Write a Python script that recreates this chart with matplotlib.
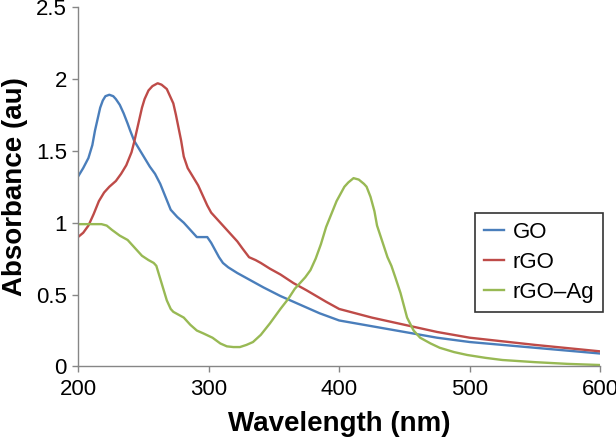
import matplotlib
matplotlib.use("Agg")
import matplotlib.pyplot as plt

plt.rcParams['font.family'] = ['Liberation Sans', 'DejaVu Sans']

go_x = [200, 204, 208, 211, 213, 215, 217, 219, 221, 224, 227, 229, 232, 235, 238, 240, 243, 247,
        251, 255, 259, 263, 267, 271, 276, 281, 286, 291, 295, 299, 302, 305, 308, 311, 315, 322,
        332, 342, 355, 370, 385, 400, 425, 450, 475, 500, 550, 600]
go_y = [1.32, 1.38, 1.45, 1.54, 1.64, 1.72, 1.80, 1.85, 1.88, 1.89, 1.88, 1.86, 1.82, 1.76, 1.69,
        1.64, 1.57, 1.51, 1.45, 1.39, 1.34, 1.27, 1.18, 1.09, 1.04, 1.00, 0.95, 0.90, 0.90, 0.90,
        0.86, 0.81, 0.76, 0.72, 0.69, 0.65, 0.60, 0.55, 0.49, 0.43, 0.37, 0.32, 0.28, 0.24, 0.20,
        0.17, 0.13, 0.09]

rgo_x = [200, 204, 208, 212, 216, 220, 224, 229, 233, 237, 241, 243, 245, 247, 249, 251, 254, 257,
         261, 264, 268, 271, 273, 275, 277, 279, 281, 284, 288, 292, 296, 299, 302, 306, 311, 316,
         322, 326, 331, 336, 340, 347, 355, 365, 375, 390, 400, 425, 450, 475, 500, 550, 600]
rgo_y = [0.90, 0.93, 0.98, 1.06, 1.15, 1.21, 1.25, 1.29, 1.34, 1.40, 1.49, 1.56, 1.64, 1.72, 1.80,
         1.86, 1.92, 1.95, 1.97, 1.96, 1.93, 1.87, 1.83, 1.75, 1.66, 1.57, 1.46, 1.38, 1.32, 1.26,
         1.18, 1.12, 1.07, 1.03, 0.98, 0.93, 0.87, 0.82, 0.76, 0.74, 0.72, 0.68, 0.64, 0.58, 0.53,
         0.45, 0.40, 0.34, 0.29, 0.24, 0.20, 0.15, 0.105]

ag_x = [200, 205, 210, 214, 218, 222, 226, 232, 238, 243, 249, 254, 258, 260, 263, 265, 268, 271,
        273, 277, 281, 286, 291, 296, 303, 309, 314, 319, 324, 329, 334, 340, 347, 355, 361, 366,
        370, 374, 378, 382, 386, 390, 394, 398, 401, 404, 407, 411, 415, 419, 421, 424, 427, 429,
        433, 437, 440, 443, 447, 452, 457, 462, 470, 477, 488, 498, 512, 525, 550, 575, 600]
ag_y = [0.99, 0.99, 0.99, 0.99, 0.99, 0.98, 0.95, 0.91, 0.88, 0.83, 0.77, 0.74, 0.72, 0.70, 0.61,
        0.55, 0.46, 0.40, 0.38, 0.36, 0.34, 0.29, 0.25, 0.23, 0.20, 0.16, 0.14, 0.135, 0.135, 0.15,
        0.17, 0.22, 0.30, 0.40, 0.47, 0.54, 0.58, 0.62, 0.67, 0.75, 0.85, 0.97, 1.06, 1.15, 1.20,
        1.25, 1.28, 1.31, 1.30, 1.27, 1.25, 1.18, 1.08, 0.98, 0.87, 0.76, 0.70, 0.62, 0.51, 0.34,
        0.25, 0.20, 0.16, 0.13, 0.10, 0.08, 0.06, 0.045, 0.03, 0.018, 0.01]

labels = ['GO', 'rGO', 'rGO\u2013Ag']
colors = ['#4a7ebb', '#be4b48', '#98b954']

fig = plt.figure(figsize=(6.16, 4.41), dpi=100)
ax = fig.add_axes([0.1266, 0.169, 0.848, 0.815])

for xs, ys, lab, c in zip([go_x, rgo_x, ag_x], [go_y, rgo_y, ag_y], labels, colors):
    ax.plot(xs, ys, color=c, lw=1.7, label=lab, solid_joinstyle='round')

ax.set_xlim(200, 600)
ax.set_ylim(0, 2.5)
ax.set_xticks([200, 300, 400, 500, 600])
ax.set_yticks([0, 0.5, 1, 1.5, 2, 2.5])
ax.set_yticklabels(['0', '0.5', '1', '1.5', '2', '2.5'])

for s in ['top', 'right']:
    ax.spines[s].set_visible(False)
for s in ['left', 'bottom']:
    ax.spines[s].set_color('#868686')
    ax.spines[s].set_linewidth(1.0)
ax.tick_params(axis='both', colors='#868686', labelcolor='black', labelsize=16,
               length=4, width=1.0, direction='out')
ax.tick_params(axis='x', pad=5)
ax.tick_params(axis='y', pad=4)

ax.set_xlabel('Wavelength (nm)', fontsize=20, fontweight='bold', labelpad=8)
ax.set_ylabel('Absorbance (au)', fontsize=20, fontweight='bold', labelpad=6)

leg = ax.legend(loc='upper left', bbox_to_anchor=(0.76, 0.426), fontsize=16,
                frameon=True, fancybox=False, handlelength=0.9, handletextpad=0.4,
                borderpad=0.4, labelspacing=0.4, borderaxespad=0)
leg.get_frame().set_edgecolor('black')
leg.get_frame().set_linewidth(1.2)

fig.savefig('out.png', dpi=100)
